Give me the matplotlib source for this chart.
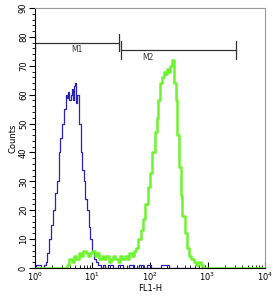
import matplotlib
matplotlib.use("Agg")
import matplotlib.pyplot as plt
from matplotlib.ticker import MultipleLocator, LogLocator, NullFormatter
import numpy as np

# histogram channels as log10(FL1-H) and counts
blue_logx = [0.00, 0.03, 0.08, 0.13, 0.17, 0.20, 0.23, 0.26, 0.30, 0.34, 0.37, 0.40,
             0.43, 0.46, 0.49, 0.52, 0.55, 0.57, 0.59, 0.61, 0.63, 0.65, 0.67, 0.69,
             0.71, 0.73, 0.75, 0.78, 0.81, 0.84, 0.86, 0.89, 0.92, 0.95, 0.98, 1.01,
             1.05, 1.08, 1.12, 1.16, 1.20, 1.25, 1.30, 1.40, 1.50, 1.55, 1.70, 1.75,
             1.85, 1.90, 2.00, 2.05, 2.30, 2.35, 2.60, 3.00]
blue_counts = [0, 1, 1, 0, 1, 2, 5, 10, 15, 20, 26, 30,
               40, 45, 50, 55, 60, 59, 61, 58, 60, 62, 58, 63,
               64, 57, 60, 50, 40, 34, 30, 24, 20, 14, 10, 6,
               3, 2, 1, 0, 1, 0, 1, 0, 1, 0, 1, 0,
               1, 0, 1, 0, 1, 0, 0, 0]

green_logx = [0.00, 0.55, 0.58, 0.62, 0.66, 0.70, 0.74, 0.78, 0.82, 0.86, 0.90, 0.94,
              0.98, 1.02, 1.06, 1.10, 1.14, 1.18, 1.22, 1.26, 1.30, 1.34, 1.38, 1.42,
              1.46, 1.50, 1.54, 1.58, 1.62, 1.66, 1.70, 1.74, 1.78, 1.82, 1.86, 1.90,
              1.94, 1.98, 2.02, 2.06, 2.10, 2.13, 2.16, 2.19, 2.22, 2.25, 2.28, 2.31,
              2.34, 2.37, 2.40, 2.43, 2.46, 2.49, 2.52, 2.55, 2.58, 2.62, 2.66, 2.70,
              2.74, 2.78, 2.82, 2.86, 2.90, 2.95, 4.00]
green_counts = [0, 0, 1, 3, 2, 4, 3, 5, 4, 6, 5, 4,
                5, 6, 4, 5, 3, 4, 3, 4, 2, 3, 4, 3,
                2, 4, 3, 4, 3, 5, 4, 6, 7, 10, 13, 17,
                22, 28, 33, 40, 47, 52, 58, 64, 66, 68, 67, 69,
                68, 70, 72, 64, 58, 46, 35, 25, 18, 12, 7, 4,
                3, 2, 1, 2, 1, 0, 0]

# gates: name, start, end, level
gates = [("M1", 1.0, 29.5, 78.0), ("M2", 31.0, 3160.0, 75.5)]

fig = plt.figure(figsize=(2.79, 2.99), dpi=100)
ax = fig.add_axes([0.125, 0.104, 0.825, 0.869])

ax.plot(10 ** np.array(blue_logx), blue_counts, color="#2b22b8", lw=0.9,
        drawstyle="steps-mid")
ax.plot(10 ** np.array(green_logx), green_counts, color="#6cf52e", lw=1.8,
        drawstyle="steps-mid")

for name, x0, x1, y in gates:
    ax.plot([x0, x1], [y, y], color="#333333", lw=0.9)
    ax.plot([x0, x0], [y - 3, y + 3], color="#333333", lw=0.9)
    ax.plot([x1, x1], [y - 3, y + 3], color="#333333", lw=0.9)
    xm = 10 ** ((np.log10(x0) + np.log10(x1)) / 2) if name == "M1" else 93
    ax.text(xm, y - 2.5, name, ha="center", va="center", fontsize=5.5,
            color="#333333")

ax.set_xscale("log")
ax.set_xlim(1, 1e4)
ax.set_ylim(0, 90)
ax.yaxis.set_major_locator(MultipleLocator(10))
ax.yaxis.set_minor_locator(MultipleLocator(2))
ax.xaxis.set_minor_locator(LogLocator(subs=np.arange(2, 10)))
ax.xaxis.set_minor_formatter(NullFormatter())

ax.tick_params(axis="y", which="major", labelsize=6, length=4, width=0.8,
               labelrotation=90, pad=1)
ax.tick_params(axis="y", which="minor", length=2, width=0.6)
ax.tick_params(axis="x", which="major", labelsize=6, length=4, width=0.8,
               direction="in", pad=2)
ax.tick_params(axis="x", which="minor", length=2, width=0.6, direction="in")
for lbl in ax.get_yticklabels():
    lbl.set_va("center")

ax.spines["top"].set_color("#999999")
ax.spines["right"].set_color("#999999")
ax.spines["left"].set_linewidth(0.8)
ax.spines["bottom"].set_linewidth(0.8)

ax.set_ylabel("Counts", fontsize=6, labelpad=1)
ax.set_xlabel("FL1-H", fontsize=6, labelpad=1)

fig.savefig("out.png", dpi=100)
